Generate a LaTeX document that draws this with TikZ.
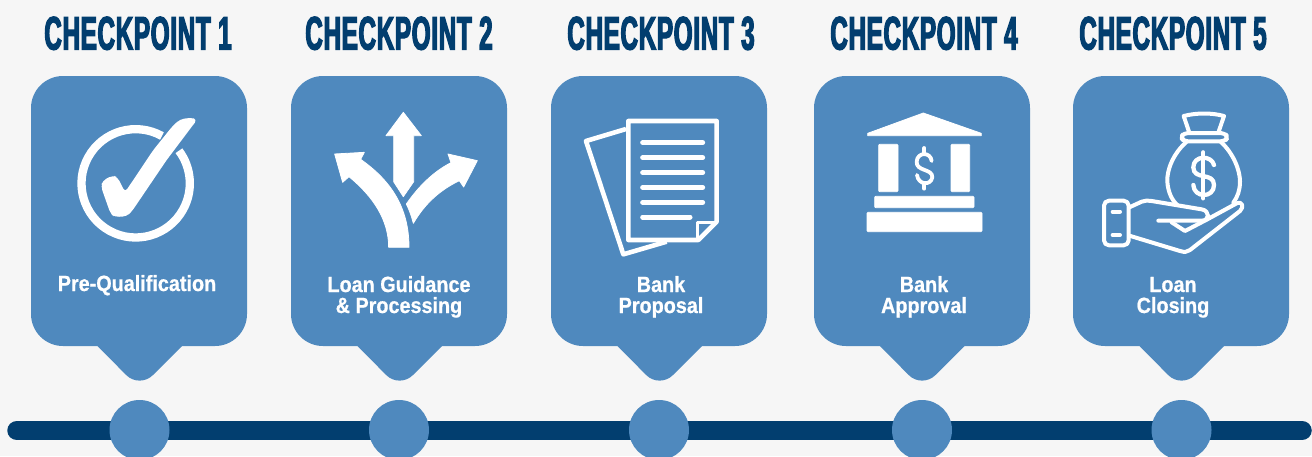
\documentclass[tikz,border=0pt]{standalone}
\usepackage{fontspec}
\setmainfont{Liberation Sans}
\newfontfamily\titlefont[FakeBold=2.6,FakeStretch=0.515,LetterSpace=1.5]{Liberation Sans Bold}
\newfontfamily\labelfont[FakeBold=0.7,FakeStretch=0.9]{Liberation Sans Bold}
\definecolor{pagebg}{HTML}{F6F6F6}
\definecolor{bubble}{HTML}{4F89BE}
\definecolor{navy}{HTML}{023E6F}
\tikzset{
  x=1pt,y=-1pt,
  titletext/.style={text=navy,font=\titlefont\fontsize{47}{47}\selectfont,inner sep=0pt,anchor=base},
  labeltext/.style={text=white,font=\labelfont\fontsize{22}{21}\selectfont,align=center,inner sep=0pt,anchor=base},
  iconfill/.style={fill=white,draw=white,line width=0.8pt,line join=round},
  iconline/.style={draw=white,line join=round,line cap=round},
}
\newcommand{\bubbleat}[2]{%
  \fill[bubble,rounded corners=32pt] (#1,76) rectangle (#1+216,346);
  \fill[bubble] (#2-42,345) -- (#2-42,346) [rounded corners=19pt] -- (#2,388.5) [rounded corners=0pt] -- (#2+42.5,346) -- (#2+42.5,345) -- cycle;
}
\begin{document}
\begin{tikzpicture}
\useasboundingbox (0,0) rectangle (1312,456);
\fill[pagebg] (0,0) rectangle (1312,456);
\bubbleat{31}{139.5}
\bubbleat{291}{399.5}
\bubbleat{551}{659.5}
\bubbleat{814}{922}
\bubbleat{1073}{1181.5}
% timeline
\coordinate (barL) at (17,430.5);
\coordinate (barR) at (1302,430.5);
\draw[navy,line width=19.5pt,line cap=round] (barL) -- (barR);
\foreach \n/\cx in {a/139.5,b/399,c/659,d/922,e/1181.5}
  \node[circle,fill=bubble,minimum size=60pt,inner sep=0pt] (dot\n) at (\cx,430) {};
% titles
\node[titletext] (t1) at (138,49.5) {CHECKPOINT 1};
\node[titletext] (t2) at (399,49.5) {CHECKPOINT 2};
\node[titletext] (t3) at (661,49.5) {CHECKPOINT 3};
\node[titletext] (t4) at (924,49.5) {CHECKPOINT 4};
\node[titletext] (t5) at (1173,49.5) {CHECKPOINT 5};
% labels
\node[labeltext] (l1) at (137,291) {Pre-Qualification};
\node[labeltext] (l2) at (399,313) {Loan Guidance\\\& Processing};
\node[labeltext] (l3) at (661,313) {Bank\\Proposal};
\node[labeltext] (l4) at (924,313) {Bank\\Approval};
\node[labeltext] (l5) at (1173,313) {Loan\\Closing};
% icon 1: check
\begin{scope}[shift={(20,0)},scale=1/3]
\draw[white,line width=8.3pt] (347,550) ++(-61:162.5) arc[start angle=-61,end angle=-397,radius=162.5];
\fill[white,rounded corners=4pt] (532,358) -- (512,353) -- (480,358) -- (458,378) -- (400,450) -- (315,577) -- (293,532) -- (278,526) -- (248,542) -- (243,560) -- (272,642) -- (285,651) -- (320,649) -- (335,635) -- (440,480) -- cycle;
\end{scope}
% icon 2: arrows
\begin{scope}[shift={(20,0)},scale=1/3]
\fill[iconfill] (1150,337) -- (1204,407) -- (1181,407) -- (1181,545) -- (1150,590) -- (1121,545) -- (1121,407) -- (1098,407) -- cycle;
\fill[iconfill] (944,462) -- (1033,457) -- (1022,478) .. controls (1110,540) and (1167,620) .. (1167,742) -- (1106,742) .. controls (1106,660) and (1060,590) .. (987,530) -- (968,547) -- cycle;
\fill[iconfill] (1284,462) -- (1372,482) -- (1331,561) -- (1318,542) .. controls (1260,570) and (1215,610) .. (1180,670) .. controls (1175,650) and (1168,630) .. (1159,612) .. controls (1195,560) and (1240,515) .. (1293,488) -- cycle;
\end{scope}
% icon 3: papers
\begin{scope}[shift={(540,60)},scale=1/3]
\draw[iconline,line width=4.6pt] (265,183) -- (530,183) -- (530,485) -- (475,540) -- (265,540) -- cycle;
\draw[iconline,line width=3.6pt] (528,487) -- (472,487) -- (472,538);
\draw[iconline,line width=4.6pt,line cap=butt] (258,207) -- (138,243) -- (250,583) -- (380,545);
\foreach \yy in {248,293,338,382,427} \draw[iconline,line width=5pt] (308,\yy) -- (488,\yy);
\draw[iconline,line width=5pt] (308,471) -- (450,471);
\end{scope}
% icon 4: bank
\begin{scope}[shift={(540,60)},scale=1/3]
\fill[iconfill] (1150,159) -- (1324,220) -- (1324,227) -- (983,227) -- (983,220) -- cycle;
\fill[iconfill,rounded corners=1pt] (1016,253) rectangle (1074,395);
\fill[iconfill,rounded corners=1pt] (1233,253) rectangle (1289,395);
\fill[iconfill,rounded corners=1pt] (1004,409) rectangle (1302,443);
\fill[iconfill,rounded corners=1pt] (981,457) rectangle (1326,515);
\draw[iconline,line width=3.8pt] (1175,303) .. controls (1172,275) and (1132,275) .. (1130,305) .. controls (1128,335) and (1178,325) .. (1177,352) .. controls (1172,378) and (1135,375) .. (1131,345);
\draw[iconline,line width=3.8pt] (1153,264) -- (1153,278);
\draw[iconline,line width=3.8pt] (1153,372) -- (1153,386);
\end{scope}
% icon 5: money
\begin{scope}[shift={(1070,90)},scale=1/3]
\draw[iconline,line width=4pt] (358,128) -- (341,78) .. controls (380,68) and (425,68) .. (462,78) -- (445,128);
\draw[iconline,line width=4pt,rounded corners=4pt] (342,129) -- (464,129) -- (474,142) -- (464,154) -- (342,154) -- (332,142) -- cycle;
\draw[iconline,line width=4pt] (350,155) .. controls (310,190) and (290,240) .. (292,275) .. controls (294,305) and (305,330) .. (322,345);
\draw[iconline,line width=4pt] (452,155) .. controls (490,190) and (510,240) .. (510,275) .. controls (510,300) and (503,320) .. (490,338);
\draw[iconline,line width=4.3pt] (432,225) .. controls (425,195) and (370,195) .. (370,232) .. controls (370,272) and (432,245) .. (432,285) .. controls (432,325) and (372,325) .. (370,285);
\draw[iconline,line width=4.3pt] (400,187) -- (400,325);
\draw[iconline,line width=4pt,rounded corners=5pt] (102,332) -- (176,332) -- (176,466) -- (102,466) -- cycle;
\draw[iconline,line width=4pt] (128,365) -- (150,365);
\draw[iconline,line width=4pt] (128,435) -- (150,435);
\draw[iconline,line width=4pt] (178,352) -- (215,335) .. controls (225,331) and (235,331) .. (245,333) -- (395,358) .. controls (420,362) and (420,392) .. (395,392) -- (265,392);
\draw[iconline,line width=4pt] (178,437) -- (330,483) .. controls (345,488) and (352,485) .. (360,480) -- (510,363) .. controls (522,352) and (518,332) .. (500,340) -- (412,388) -- (345,423) -- (305,397);
\end{scope}
\end{tikzpicture}
\end{document}
